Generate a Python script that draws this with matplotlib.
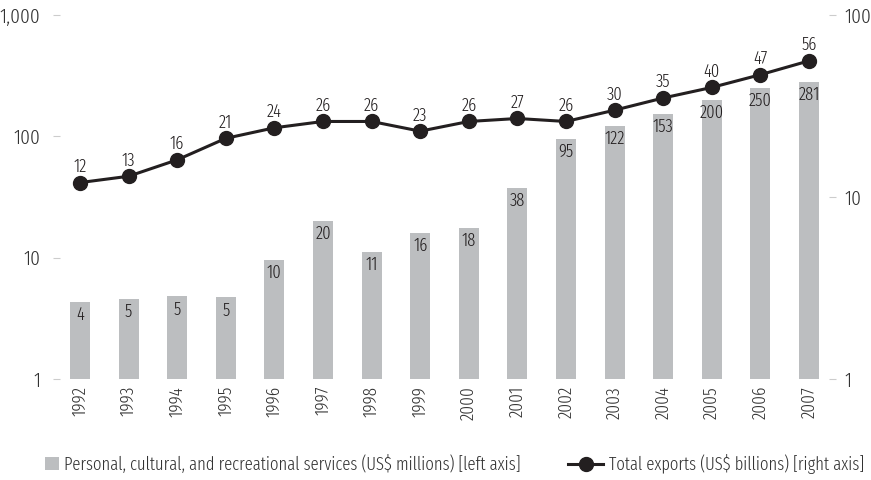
import matplotlib
matplotlib.use("Agg")
import matplotlib.pyplot as plt
from matplotlib.lines import Line2D
from matplotlib.patches import Patch
from matplotlib.ticker import FixedLocator, NullLocator
import matplotlib.font_manager as fm

years = ["1992", "1993", "1994", "1995", "1996", "1997", "1998", "1999",
         "2000", "2001", "2002", "2003", "2004", "2005", "2006", "2007"]
services = [4.3, 4.6, 4.8, 4.7, 9.6, 20.2, 11.1, 16.0, 17.6, 37.6, 95, 122, 153, 200, 250, 281]
exports = [12, 13, 16, 21, 24, 26, 26, 23, 26, 27, 26, 30, 35, 40, 47, 56]
left_ticks = [1, 10, 100, 1000]
left_labels = ["1", "10", "100", "1,000"]
right_ticks = [1, 10, 100]
right_labels = ["1", "10", "100"]
series_names = ["Personal, cultural, and recreational services (US$ millions) [left axis]",
                "Total exports (US$ billions) [right axis]"]

names = {f.name for f in fm.fontManager.ttflist}
fam = None
for cand in ["Fira Sans Extra Condensed", "Fira Sans Condensed", "Roboto Condensed",
             "PT Sans Narrow", "Archivo Narrow", "Liberation Sans Narrow", "DejaVu Sans Condensed"]:
    if cand in names:
        fam = cand
        break
plt.rcParams['font.family'] = [fam, 'DejaVu Sans'] if fam else ['DejaVu Sans']
plt.rcParams['font.weight'] = 300

BAR = "#bcbec0"
LINE = "#231f20"
TXT = "#333333"

fig = plt.figure(figsize=(8.71, 4.8), dpi=100)
ax = fig.add_axes([60/871, 1-379/480, (829-60)/871, (379-15)/480])
x = list(range(len(years)))
ax.bar(x, services, width=0.41, color=BAR, zorder=2)
ax.set_yscale('log')
ax.set_ylim(1, 1000)
ax.set_xlim(-0.41, 15.41)
ax.yaxis.set_major_locator(FixedLocator(left_ticks))
ax.yaxis.set_minor_locator(NullLocator())
ax.set_yticklabels(left_labels)
ax.set_xticks(x)
ax.set_xticklabels(years, rotation=90)
for s in ax.spines.values():
    s.set_visible(False)
ax.tick_params(axis='y', length=5, width=0.8, color="#cccccc", labelsize=15, labelcolor=TXT, pad=9)
ax.tick_params(axis='x', length=0, labelsize=13.5, labelcolor=TXT, pad=5)
for xi, v in zip(x, services):
    ax.annotate(f"{v:.0f}", (xi, v), xytext=(0, -3), textcoords='offset points',
                ha='center', va='top', fontsize=13, color=LINE, zorder=3)

ax2 = ax.twinx()
ax2.plot(x, exports, color=LINE, lw=2.2, marker='o', markersize=10, zorder=4)
ax2.set_yscale('log')
ax2.set_ylim(1, 100)
ax2.yaxis.set_major_locator(FixedLocator(right_ticks))
ax2.yaxis.set_minor_locator(NullLocator())
ax2.set_yticklabels(right_labels)
for s in ax2.spines.values():
    s.set_visible(False)
ax2.tick_params(axis='y', length=5, width=0.8, color="#cccccc", labelsize=15, labelcolor=TXT, pad=6)
for xi, v in zip(x, exports):
    ax2.annotate(f"{v:.0f}", (xi, v), xytext=(0, 5), textcoords='offset points',
                 ha='center', va='bottom', fontsize=13, color=LINE, zorder=5)

ly = 1 - 464/480
leg1 = fig.legend([Patch(facecolor=BAR, edgecolor='none')], [series_names[0]],
                  loc='center left', bbox_to_anchor=(45/871, ly), frameon=False,
                  fontsize=13, labelcolor=TXT, borderpad=0, borderaxespad=0,
                  handlelength=0.78, handleheight=0.78, handletextpad=0.3)
leg2 = fig.legend([Line2D([0], [0], color=LINE, lw=2.2, marker='o', markersize=10)],
                  [series_names[1]], loc='center left', bbox_to_anchor=(568/871, ly),
                  frameon=False, fontsize=13, labelcolor=TXT, borderpad=0, borderaxespad=0,
                  handlelength=1.95, handletextpad=0.3)

fig.savefig("out.png", dpi=100)
